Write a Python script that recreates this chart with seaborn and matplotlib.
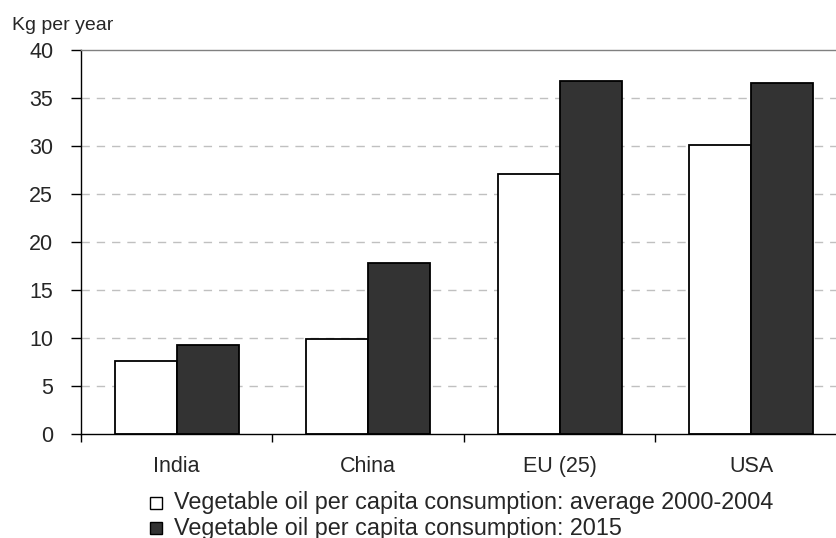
import pandas as pd
import matplotlib.pyplot as plt
import seaborn as sns

# values
regions = ['India', 'China', 'EU (25)', 'USA']
avg_2000_2004 = [7.6, 9.9, 27.1, 30.1]
year_2015 = [9.3, 17.8, 36.8, 36.6]
series_names = ['Vegetable oil per capita consumption: average 2000-2004',
                'Vegetable oil per capita consumption: 2015']
y_ticks = [0, 5, 10, 15, 20, 25, 30, 35, 40]

df = pd.DataFrame({
    'region': regions * 2,
    'value': avg_2000_2004 + year_2015,
    'series': [series_names[0]] * 4 + [series_names[1]] * 4,
})

sns.set_style('white')
plt.rcParams['font.family'] = ['Liberation Sans', 'DejaVu Sans']

fig = plt.figure(figsize=(8.37, 5.38), dpi=100)
ax = fig.add_axes([81 / 837, 104 / 538, 766 / 837, 384 / 538])

sns.barplot(data=df, x='region', y='value', hue='series',
            palette=['white', '#333333'], edgecolor='black', linewidth=1.3,
            width=0.65, gap=0, ax=ax, legend=False)

ax.set_ylim(0, 40)
ax.set_xlim(-0.5, 3.5)
ax.set_yticks(y_ticks)
ax.set_yticklabels([str(t) for t in y_ticks], fontsize=15.5)
ax.set_xlabel('')
ax.set_ylabel('')
ax.tick_params(axis='x', length=0, labelsize=15.5, pad=16)
ax.tick_params(axis='y', length=7, width=1, direction='out', color='black', pad=13, left=True)
ax.set_xticks([-0.5, 0.5, 1.5, 2.5], minor=True)
ax.tick_params(axis='x', which='minor', length=6, width=1, direction='out', color='black', bottom=True)

for t in y_ticks[1:-1]:
    ax.axhline(t, color='#c0c0c0', lw=1, ls=(0, (6, 5)), zorder=0)

ax.spines['left'].set_color('black')
ax.spines['bottom'].set_color('black')
ax.spines['top'].set_color('#808080')
ax.spines['right'].set_visible(False)
for s in ax.spines.values():
    s.set_linewidth(1)

fig.text(12 / 837, 1 - 26 / 538, 'Kg per year', fontsize=14, va='center', ha='left')

# legend
colors = ['white', '#333333']
for i, (name, c) in enumerate(zip(series_names, colors)):
    y = 1 - (503 + 25 * i) / 538
    fig.patches.append(plt.Rectangle((150 / 837, y - 6 / 538), 12 / 837, 12 / 538,
                                     transform=fig.transFigure, facecolor=c,
                                     edgecolor='black', lw=1, figure=fig))
    fig.text(174 / 837, y, name, fontsize=16.8, va='center', ha='left')

fig.savefig('out.png', dpi=100)
